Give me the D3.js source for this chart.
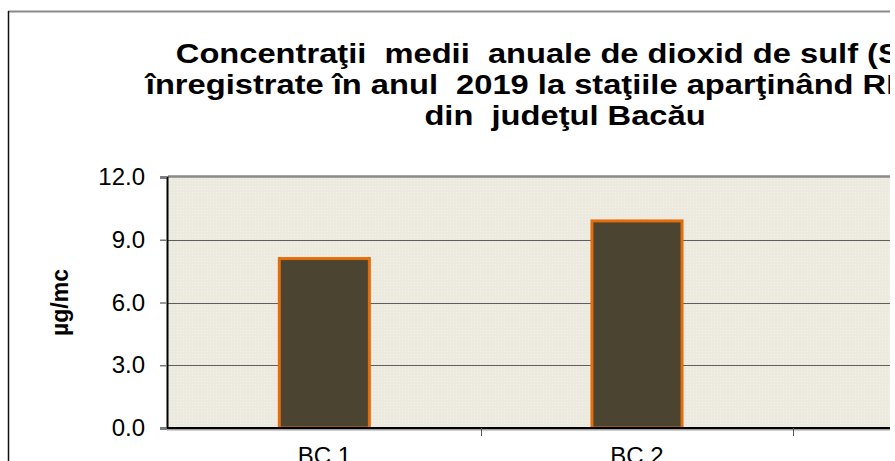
<!DOCTYPE html>
<meta charset="utf-8">
<style>
    body { margin: 0; background: #FFFFFF; overflow: hidden; }
    svg { font-family: "Liberation Sans", Arial, sans-serif; display: block; }
    .title text { white-space: pre; }
</style>

<script src="https://d3js.org/d3.v7.min.js"></script>

<div id="graph"></div>

<script>
    // data
    var stations = ["BC 1", "BC 2", "BC 3"]
    var so2Values = [8.1, 9.9, null]   // third bar lies outside the visible crop
    var yTicks = [0, 3, 6, 9, 12]
    var titleLines = [
        "Concentraţii  medii  anuale de dioxid de sulf (SO2)",
        "înregistrate în anul  2019 la staţiile aparţinând RNMCA",
        "din  judeţul Bacău"
    ]
    var yLabel = "µg/mc"

    var data = stations.map(function (s, i) { return { station: s, value: so2Values[i] } })

    var margin = { top: 177, left: 168 },
        plotBottom = 428,
        plotRight = 1106

    var svg = d3.select("#graph")
        .append("svg")
        .attr("width", 890)
        .attr("height", 461)

    // dotted background of the plot area
    var pattern = svg.append("defs").append("pattern")
        .attr("id", "dots")
        .attr("width", 3)
        .attr("height", 3)
        .attr("patternUnits", "userSpaceOnUse")
    pattern.append("rect").attr("width", 3).attr("height", 3).attr("fill", "#ECE9DF")
    pattern.append("rect").attr("width", 1).attr("height", 1).attr("fill", "#F3F1EA")

    // outer chart border
    svg.append("line")
        .attr("x1", 8).attr("x2", 890).attr("y1", 11.5).attr("y2", 11.5)
        .attr("stroke", "#8A8A8A").attr("stroke-width", 2)
    svg.append("line")
        .attr("x1", 8.5).attr("x2", 8.5).attr("y1", 11).attr("y2", 461)
        .attr("stroke", "#111").attr("stroke-width", 1.5)

    // title (the original font is drawn wider than it is tall)
    svg.append("g")
        .attr("class", "title")
        .attr("transform", "translate(565,0) scale(1.21,1)")
        .selectAll("text")
        .data(titleLines)
        .enter()
        .append("text")
        .attr("x", 0)
        .attr("y", function (d, i) { return 63 + i * 31 })
        .attr("text-anchor", "middle")
        .attr("font-size", "27px")
        .attr("font-weight", "bold")
        .attr("fill", "#000")
        .text(function (d) { return d })

    var y = d3.scaleLinear()
        .domain([0, 12])
        .range([plotBottom, margin.top])

    var x = d3.scaleBand()
        .domain(stations)
        .range([margin.left, plotRight])
        .paddingInner(0.712)
        .paddingOuter(0.356)

    // plot area
    svg.append("rect")
        .attr("x", margin.left)
        .attr("y", margin.top)
        .attr("width", plotRight - margin.left)
        .attr("height", plotBottom - margin.top)
        .attr("fill", "url(#dots)")

    // gridlines
    svg.append("g")
        .selectAll("line")
        .data(yTicks.filter(function (d) { return d > 0 && d < 12 }))
        .enter()
        .append("line")
        .attr("x1", margin.left)
        .attr("x2", plotRight)
        .attr("y1", function (d) { return Math.round(y(d)) + 0.5 })
        .attr("y2", function (d) { return Math.round(y(d)) + 0.5 })
        .attr("stroke", "#5E5E5E")
        .attr("stroke-width", 1.2)

    // top border of plot
    svg.append("line")
        .attr("x1", margin.left).attr("x2", plotRight)
        .attr("y1", margin.top - 0.5).attr("y2", margin.top - 0.5)
        .attr("stroke", "#8A8A8A").attr("stroke-width", 2.5)

    // bars
    svg.append("g")
        .selectAll("rect")
        .data(data.filter(function (d) { return d.value != null }))
        .enter()
        .append("rect")
        .attr("x", function (d) { return x(d.station) })
        .attr("y", function (d) { return y(d.value) })
        .attr("width", x.bandwidth())
        .attr("height", function (d) { return y(0) - y(d.value) })
        .attr("fill", "#4B4430")
        .attr("stroke", "#E46C0A")
        .attr("stroke-width", 3)

    // y axis
    var yAxis = svg.append("g")
        .attr("transform", "translate(" + (margin.left - 1) + ",0)")
        .call(d3.axisLeft(y).tickValues(yTicks).tickFormat(d3.format(".1f")).tickSize(7).tickPadding(15))
    yAxis.select(".domain").attr("stroke", "#000").attr("stroke-width", 2)
    yAxis.selectAll(".tick line").attr("stroke", "#7A7A7A").attr("stroke-width", 1.5)
    yAxis.selectAll(".tick text")
        .attr("font-size", "24px")
        .attr("font-family", "Liberation Sans, Arial, sans-serif")
        .attr("fill", "#000")

    // x axis: baseline, ticks on category boundaries, labels at band centers
    svg.append("line")
        .attr("x1", margin.left - 1).attr("x2", plotRight)
        .attr("y1", plotBottom + 1.5).attr("y2", plotBottom + 1.5)
        .attr("stroke", "#A0A0A0").attr("stroke-width", 2)
    svg.append("line")
        .attr("x1", margin.left - 1).attr("x2", plotRight)
        .attr("y1", plotBottom).attr("y2", plotBottom)
        .attr("stroke", "#000").attr("stroke-width", 2)

    var gap = (x.step() - x.bandwidth()) / 2
    svg.append("g")
        .selectAll("line")
        .data(stations.slice(1))
        .enter()
        .append("line")
        .attr("x1", function (d) { return Math.round(x(d) - gap) + 0.5 })
        .attr("x2", function (d) { return Math.round(x(d) - gap) + 0.5 })
        .attr("y1", plotBottom)
        .attr("y2", plotBottom + 8)
        .attr("stroke", "#555")
        .attr("stroke-width", 1)

    svg.append("g")
        .selectAll("text")
        .data(stations)
        .enter()
        .append("text")
        .attr("x", function (d) { return x(d) + x.bandwidth() / 2 })
        .attr("y", 464)
        .attr("text-anchor", "middle")
        .attr("font-size", "24px")
        .attr("fill", "#000")
        .text(function (d) { return d })

    // y axis label
    svg.append("text")
        .attr("transform", "translate(68," + ((margin.top + plotBottom) / 2) + ") rotate(-90)")
        .attr("text-anchor", "middle")
        .attr("font-size", "23px")
        .attr("font-weight", "bold")
        .attr("fill", "#000")
        .text(yLabel)
</script>
